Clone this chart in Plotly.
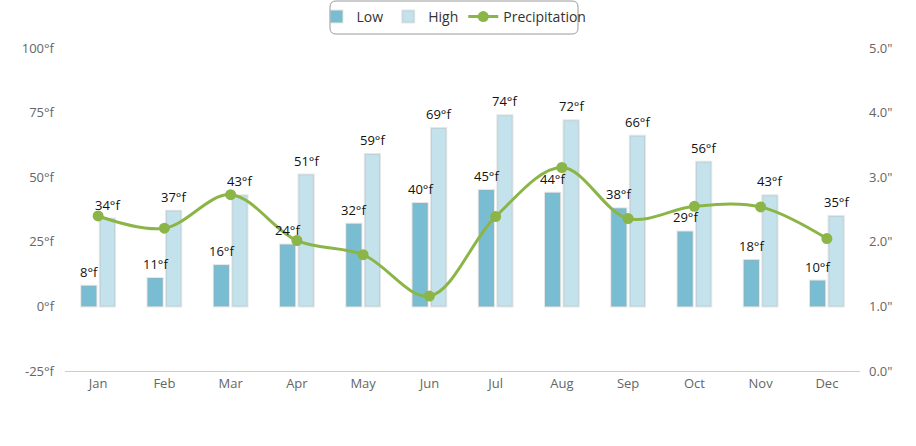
import plotly.graph_objects as go

months = ["Jan", "Feb", "Mar", "Apr", "May", "Jun", "Jul", "Aug", "Sep", "Oct", "Nov", "Dec"]
low_f = [8, 11, 16, 24, 32, 40, 45, 44, 38, 29, 18, 10]
high_f = [34, 37, 43, 51, 59, 69, 74, 72, 66, 56, 43, 35]
precip_in = [2.40, 2.21, 2.73, 2.02, 1.80, 1.16, 2.39, 3.15, 2.36, 2.55, 2.54, 2.05]

temp_ticks = [-25, 0, 25, 50, 75, 100]
temp_tick_text = [f"{v}°f" for v in temp_ticks]
precip_ticks = [0, 1, 2, 3, 4, 5]
precip_tick_text = [f'{v:.1f}"' for v in precip_ticks]

W, H = 916, 446
ML, MR, MT, MB = 65, 56, 48, 75
PW, PH = W - ML - MR, H - MT - MB

FONT = "Open Sans"
LOW_C = "#78BDD2"
HIGH_C = "#C4E2EC"
LINE_C = "#8CB548"
RIM_C = "rgba(170,170,170,0.28)"

BARGAP, GROUPGAP = 0.44, 0.18
cat_px = PW / len(months)
slot_px = cat_px * (1 - BARGAP) / 2
offset_px = slot_px / 2

fig = go.Figure()
fig.add_trace(go.Bar(
    x=months, y=low_f, name="Low",
    marker=dict(color=LOW_C, line=dict(color=RIM_C, width=2)),
))
fig.add_trace(go.Bar(
    x=months, y=high_f, name="High",
    marker=dict(color=HIGH_C, line=dict(color=RIM_C, width=2)),
))
fig.add_trace(go.Scatter(
    x=months, y=precip_in, name="Precipitation", yaxis="y2",
    mode="lines+markers",
    line=dict(color=LINE_C, width=3, shape="spline", smoothing=1),
    marker=dict(color=LINE_C, size=11),
    cliponaxis=False,
))

# data labels on top of everything
for series, shift in ((low_f, -offset_px), (high_f, offset_px)):
    for m, v in zip(months, series):
        fig.add_annotation(
            x=m, y=v, xref="x", yref="y", text=f"{v}°f",
            showarrow=False, xanchor="center", yanchor="bottom",
            xshift=shift, yshift=3,
            font=dict(family=FONT, size=13, color="#111111"),
        )


def px_x(p):
    return (p - ML) / PW


def px_y(p):
    return (H - MB - p) / PH


# rounded legend frame
x0, x1, y0, y1, r = 330, 578, 1, 34, 6
path = (
    f"M {px_x(x0 + r)} {px_y(y0)} L {px_x(x1 - r)} {px_y(y0)} "
    f"Q {px_x(x1)} {px_y(y0)} {px_x(x1)} {px_y(y0 + r)} "
    f"L {px_x(x1)} {px_y(y1 - r)} "
    f"Q {px_x(x1)} {px_y(y1)} {px_x(x1 - r)} {px_y(y1)} "
    f"L {px_x(x0 + r)} {px_y(y1)} "
    f"Q {px_x(x0)} {px_y(y1)} {px_x(x0)} {px_y(y1 - r)} "
    f"L {px_x(x0)} {px_y(y0 + r)} "
    f"Q {px_x(x0)} {px_y(y0)} {px_x(x0 + r)} {px_y(y0)} Z"
)
fig.add_shape(type="path", path=path, xref="paper", yref="paper",
              line=dict(color="#9A9A9A", width=1), fillcolor="rgba(0,0,0,0)")

fig.update_layout(
    width=W, height=H,
    margin=dict(l=ML, r=MR, t=MT, b=MB, pad=0, autoexpand=False),
    paper_bgcolor="#FFFFFF", plot_bgcolor="#FFFFFF",
    font=dict(family=FONT, size=13, color="#666666"),
    barmode="group", bargap=BARGAP, bargroupgap=GROUPGAP,
    showlegend=True,
    legend=dict(
        orientation="h", x=px_x(454), xanchor="center",
        y=px_y(17), yanchor="middle",
        font=dict(family=FONT, size=14, color="#333333"),
        bgcolor="rgba(0,0,0,0)", borderwidth=0,
        itemwidth=30, traceorder="normal",
    ),
    xaxis=dict(
        type="category", range=[-0.5, 11.5],
        showline=True, linecolor="#C0D0E0", linewidth=1,
        showgrid=False, zeroline=False, ticks="",
        tickfont=dict(family=FONT, size=13, color="#666666"),
    ),
    yaxis=dict(
        range=[-25, 100], tickvals=temp_ticks, ticktext=temp_tick_text,
        showgrid=False, zeroline=False, showline=False, ticks="",
        ticklabelstandoff=10,
        tickfont=dict(family=FONT, size=13, color="#666666"),
    ),
    yaxis2=dict(
        range=[0, 5], tickvals=precip_ticks, ticktext=precip_tick_text,
        overlaying="y", side="right",
        showgrid=False, zeroline=False, showline=False, ticks="",
        ticklabelstandoff=8,
        tickfont=dict(family=FONT, size=13, color="#666666"),
    ),
)

fig.write_html("out.html", config={"displayModeBar": False},
               post_script="document.body.style.margin='0';")
